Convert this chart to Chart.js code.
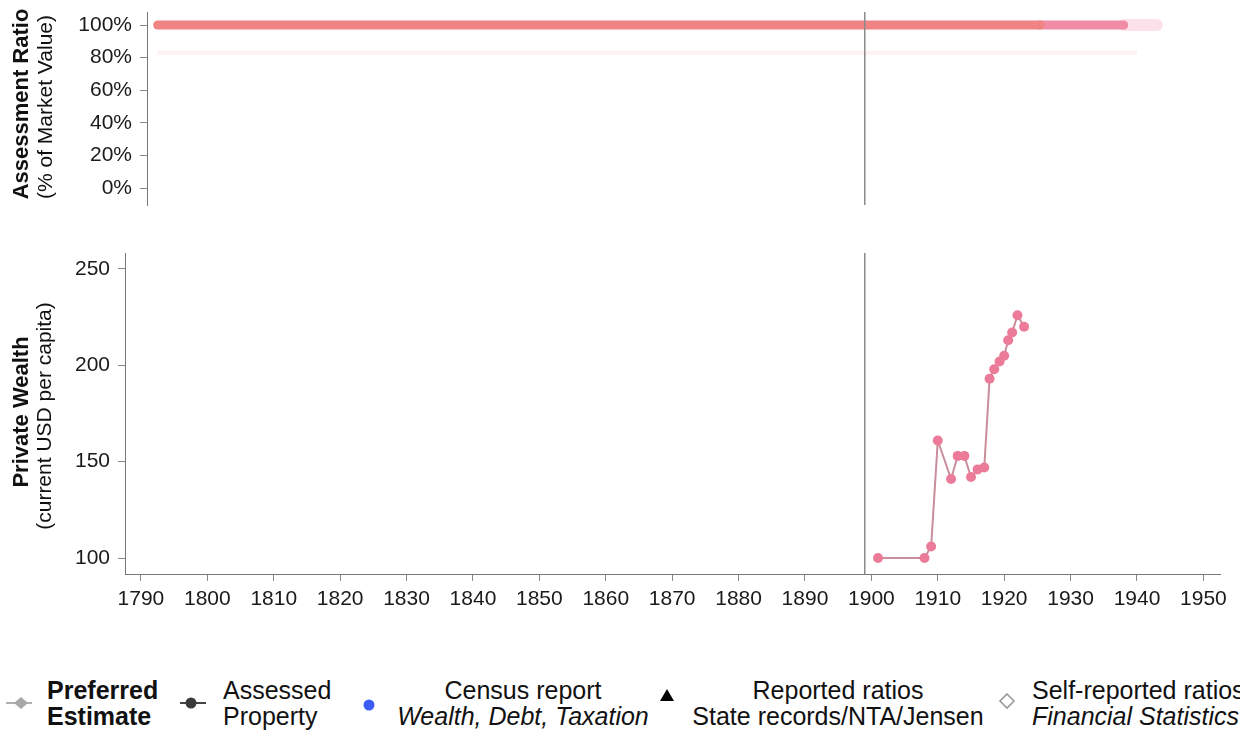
<!DOCTYPE html>
<html>
<head>
<meta charset="utf-8">
<script src="https://cdn.jsdelivr.net/npm/chart.js@4/dist/chart.umd.min.js"></script>
<style>
  html, body { margin:0; padding:0; background:#fff; }
  body { width:1240px; height:734px; overflow:hidden; position:relative; font-family:"Liberation Sans", Arial, Helvetica, sans-serif; color:#111; }
  canvas { position:absolute; left:0; }
  #top { top:0; }
  #bottom { top:240px; }
  .lg { position:absolute; font-size:25px; line-height:26px; white-space:nowrap; }
  .lg.c { text-align:center; }
  .mk { position:absolute; }
</style>
</head>
<body>
<canvas id="top" width="1240" height="215"></canvas>
<canvas id="bottom" width="1240" height="390"></canvas>

<!-- legend -->
<svg class="mk" style="left:4px;top:692px" width="30" height="22"><line x1="2" y1="11" x2="28" y2="11" stroke="#b0b0b0" stroke-width="2"/><path d="M10 11 L17 5 L24 11 L17 17 Z" fill="#a8a8a8"/></svg>
<div class="lg" style="left:47px;top:677px;font-weight:bold">Preferred<br>Estimate</div>
<svg class="mk" style="left:178px;top:692px" width="30" height="22"><line x1="2" y1="11" x2="28" y2="11" stroke="#444" stroke-width="2"/><circle cx="13" cy="11" r="5.5" fill="#3a3a3a"/></svg>
<div class="lg" style="left:223px;top:677px">Assessed<br>Property</div>
<svg class="mk" style="left:360px;top:696px" width="18" height="18"><circle cx="9" cy="9" r="5.5" fill="#3c5cf5"/></svg>
<div class="lg c" style="left:381px;top:677px;width:284px">Census report<br><i>Wealth, Debt, Taxation</i></div>
<svg class="mk" style="left:658px;top:686px" width="18" height="18"><path d="M9 3 L16 15 L2 15 Z" fill="#000"/></svg>
<div class="lg c" style="left:686px;top:677px;width:304px">Reported ratios<br>State records/NTA/Jensen</div>
<svg class="mk" style="left:997px;top:691px" width="20" height="20"><path d="M10 3 L17 10 L10 17 L3 10 Z" fill="#fff" stroke="#9a9a9a" stroke-width="1.6"/></svg>
<div class="lg" style="left:1032px;top:677px">Self-reported ratios<br><i>Financial Statistics</i></div>

<script>
// ---------------- data ----------------
const refYear = 1899;

// Top panel: assessment ratio (% of market value)
const ratioMainYears  = [1792.5, 1925.4];
const ratioMainValues = [100, 100];
const ratioTailYears  = [1925.4, 1938];
const ratioTailValues = [100, 100];
const ratioFadeYears  = [1938, 1943];
const ratioFadeValues = [100, 100];
const ratioFaintYears  = [1792.5, 1940];
const ratioFaintValues = [83, 83];
const ratioTicks = [0, 20, 40, 60, 80, 100];

// Bottom panel: private wealth (current USD per capita)
const wealthYears  = [1901, 1908, 1909, 1910, 1912, 1913, 1914, 1915, 1916, 1917,
                      1917.8, 1918.5, 1919.3, 1920, 1920.6, 1921.2, 1922, 1923];
const wealthValues = [100, 100, 106, 161, 141, 153, 153, 142, 146, 147,
                      193, 198, 202, 205, 213, 217, 226, 220];
const wealthTicks = [100, 150, 200, 250];
const yearTicks = [1790, 1800, 1810, 1820, 1830, 1840, 1850, 1860, 1870, 1880,
                   1890, 1900, 1910, 1920, 1930, 1940, 1950];

// ---------------- helpers ----------------
const FONT = '"Liberation Sans", Arial, Helvetica, sans-serif';
const pts = (xs, ys) => xs.map((x, i) => ({ x: x, y: ys[i] }));

const refLine = {
  id: 'refLine',
  afterDatasetsDraw(chart) {
    const x = chart.scales.x.getPixelForValue(refYear);
    const a = chart.chartArea;
    const ctx = chart.ctx;
    ctx.save();
    ctx.strokeStyle = '#8a8a8a';
    ctx.lineWidth = 1.5;
    ctx.beginPath();
    ctx.moveTo(x, a.top);
    ctx.lineTo(x, a.bottom);
    ctx.stroke();
    ctx.restore();
  }
};

const yTitle = {
  id: 'yTitle',
  afterDraw(chart, args, opts) {
    const ctx = chart.ctx;
    ctx.save();
    ctx.fillStyle = '#111';
    ctx.textAlign = 'center';
    ctx.textBaseline = 'middle';
    (opts.lines || []).forEach(l => {
      ctx.save();
      ctx.translate(l.x, l.y);
      ctx.rotate(-Math.PI / 2);
      ctx.font = l.font;
      ctx.fillText(l.text, 0, 0);
      ctx.restore();
    });
    ctx.restore();
  }
};

const fitY = w => s => { s.width = w; s.paddingTop = 0; s.paddingBottom = 0; };
const fitX = h => s => { s.height = h; s.paddingLeft = 0; s.paddingRight = 0; };

const tickStyle = { font: { family: FONT, size: 21 }, color: '#1a1a1a' };

// ---------------- top chart ----------------
new Chart(document.getElementById('top'), {
  type: 'scatter',
  data: {
    datasets: [
      { data: pts(ratioFaintYears, ratioFaintValues), showLine: true, borderColor: 'rgba(240,140,150,0.12)', borderWidth: 4, pointRadius: 0 },
      { data: pts(ratioMainYears, ratioMainValues), showLine: true, borderColor: 'rgb(240,132,132)', borderWidth: 9, borderCapStyle: 'round', pointRadius: 0 },
      { data: pts(ratioTailYears, ratioTailValues), showLine: true, borderColor: 'rgb(240,140,165)', borderWidth: 9, borderCapStyle: 'round', pointRadius: 0 },
      { data: pts(ratioFadeYears, ratioFadeValues), showLine: true, borderColor: 'rgba(245,170,195,0.35)', borderWidth: 12, borderCapStyle: 'round', pointRadius: 0 }
    ]
  },
  options: {
    responsive: false, animation: false, devicePixelRatio: 1,
    layout: { padding: { left: 0, right: 20, top: 12, bottom: 10 } },
    plugins: {
      legend: { display: false }, tooltip: { enabled: false },
      yTitle: { lines: [
        { text: 'Assessment Ratio', x: 22, y: 104, font: 'bold 22px ' + FONT },
        { text: '(% of Market Value)', x: 46, y: 107, font: '21px ' + FONT }
      ] }
    },
    scales: {
      x: { type: 'linear', display: false, min: 1790.9, max: 1952.5 },
      y: {
        type: 'linear', min: -10.4, max: 108,
        afterFit: fitY(147),
        afterBuildTicks: s => { s.ticks = ratioTicks.map(v => ({ value: v })); },
        ticks: Object.assign({ padding: 8, callback: v => v + '%' }, tickStyle),
        grid: { drawOnChartArea: false, drawTicks: true, tickLength: 7, color: '#888' },
        border: { display: true, color: '#777', width: 1 }
      }
    }
  },
  plugins: [refLine, yTitle]
});

// ---------------- bottom chart ----------------
new Chart(document.getElementById('bottom'), {
  type: 'scatter',
  data: {
    datasets: [{
      data: pts(wealthYears, wealthValues),
      showLine: true,
      borderColor: '#c98d9b',
      borderWidth: 2,
      pointRadius: 5,
      pointBackgroundColor: '#ec7b99',
      pointBorderWidth: 0
    }]
  },
  options: {
    responsive: false, animation: false, devicePixelRatio: 1,
    layout: { padding: { left: 0, right: 20, top: 13, bottom: 0 } },
    plugins: {
      legend: { display: false }, tooltip: { enabled: false },
      yTitle: { lines: [
        { text: 'Private Wealth', x: 22, y: 172, font: 'bold 22px ' + FONT },
        { text: '(current USD per capita)', x: 45, y: 176, font: '21px ' + FONT }
      ] }
    },
    scales: {
      x: {
        type: 'linear', min: 1787.6, max: 1952.5,
        afterFit: fitX(56),
        afterBuildTicks: s => { s.ticks = yearTicks.map(v => ({ value: v })); },
        ticks: Object.assign({ padding: 6, maxRotation: 0, autoSkip: false, callback: v => String(v) }, tickStyle),
        grid: { drawOnChartArea: false, drawTicks: true, tickLength: 7, color: '#888' },
        border: { display: true, color: '#777', width: 1 }
      },
      y: {
        type: 'linear', min: 91.7, max: 258.3,
        afterFit: fitY(125),
        afterBuildTicks: s => { s.ticks = wealthTicks.map(v => ({ value: v })); },
        ticks: Object.assign({ padding: 8 }, tickStyle),
        grid: { drawOnChartArea: false, drawTicks: true, tickLength: 7, color: '#888' },
        border: { display: true, color: '#777', width: 1 }
      }
    }
  },
  plugins: [refLine, yTitle]
});
</script>
</body>
</html>
